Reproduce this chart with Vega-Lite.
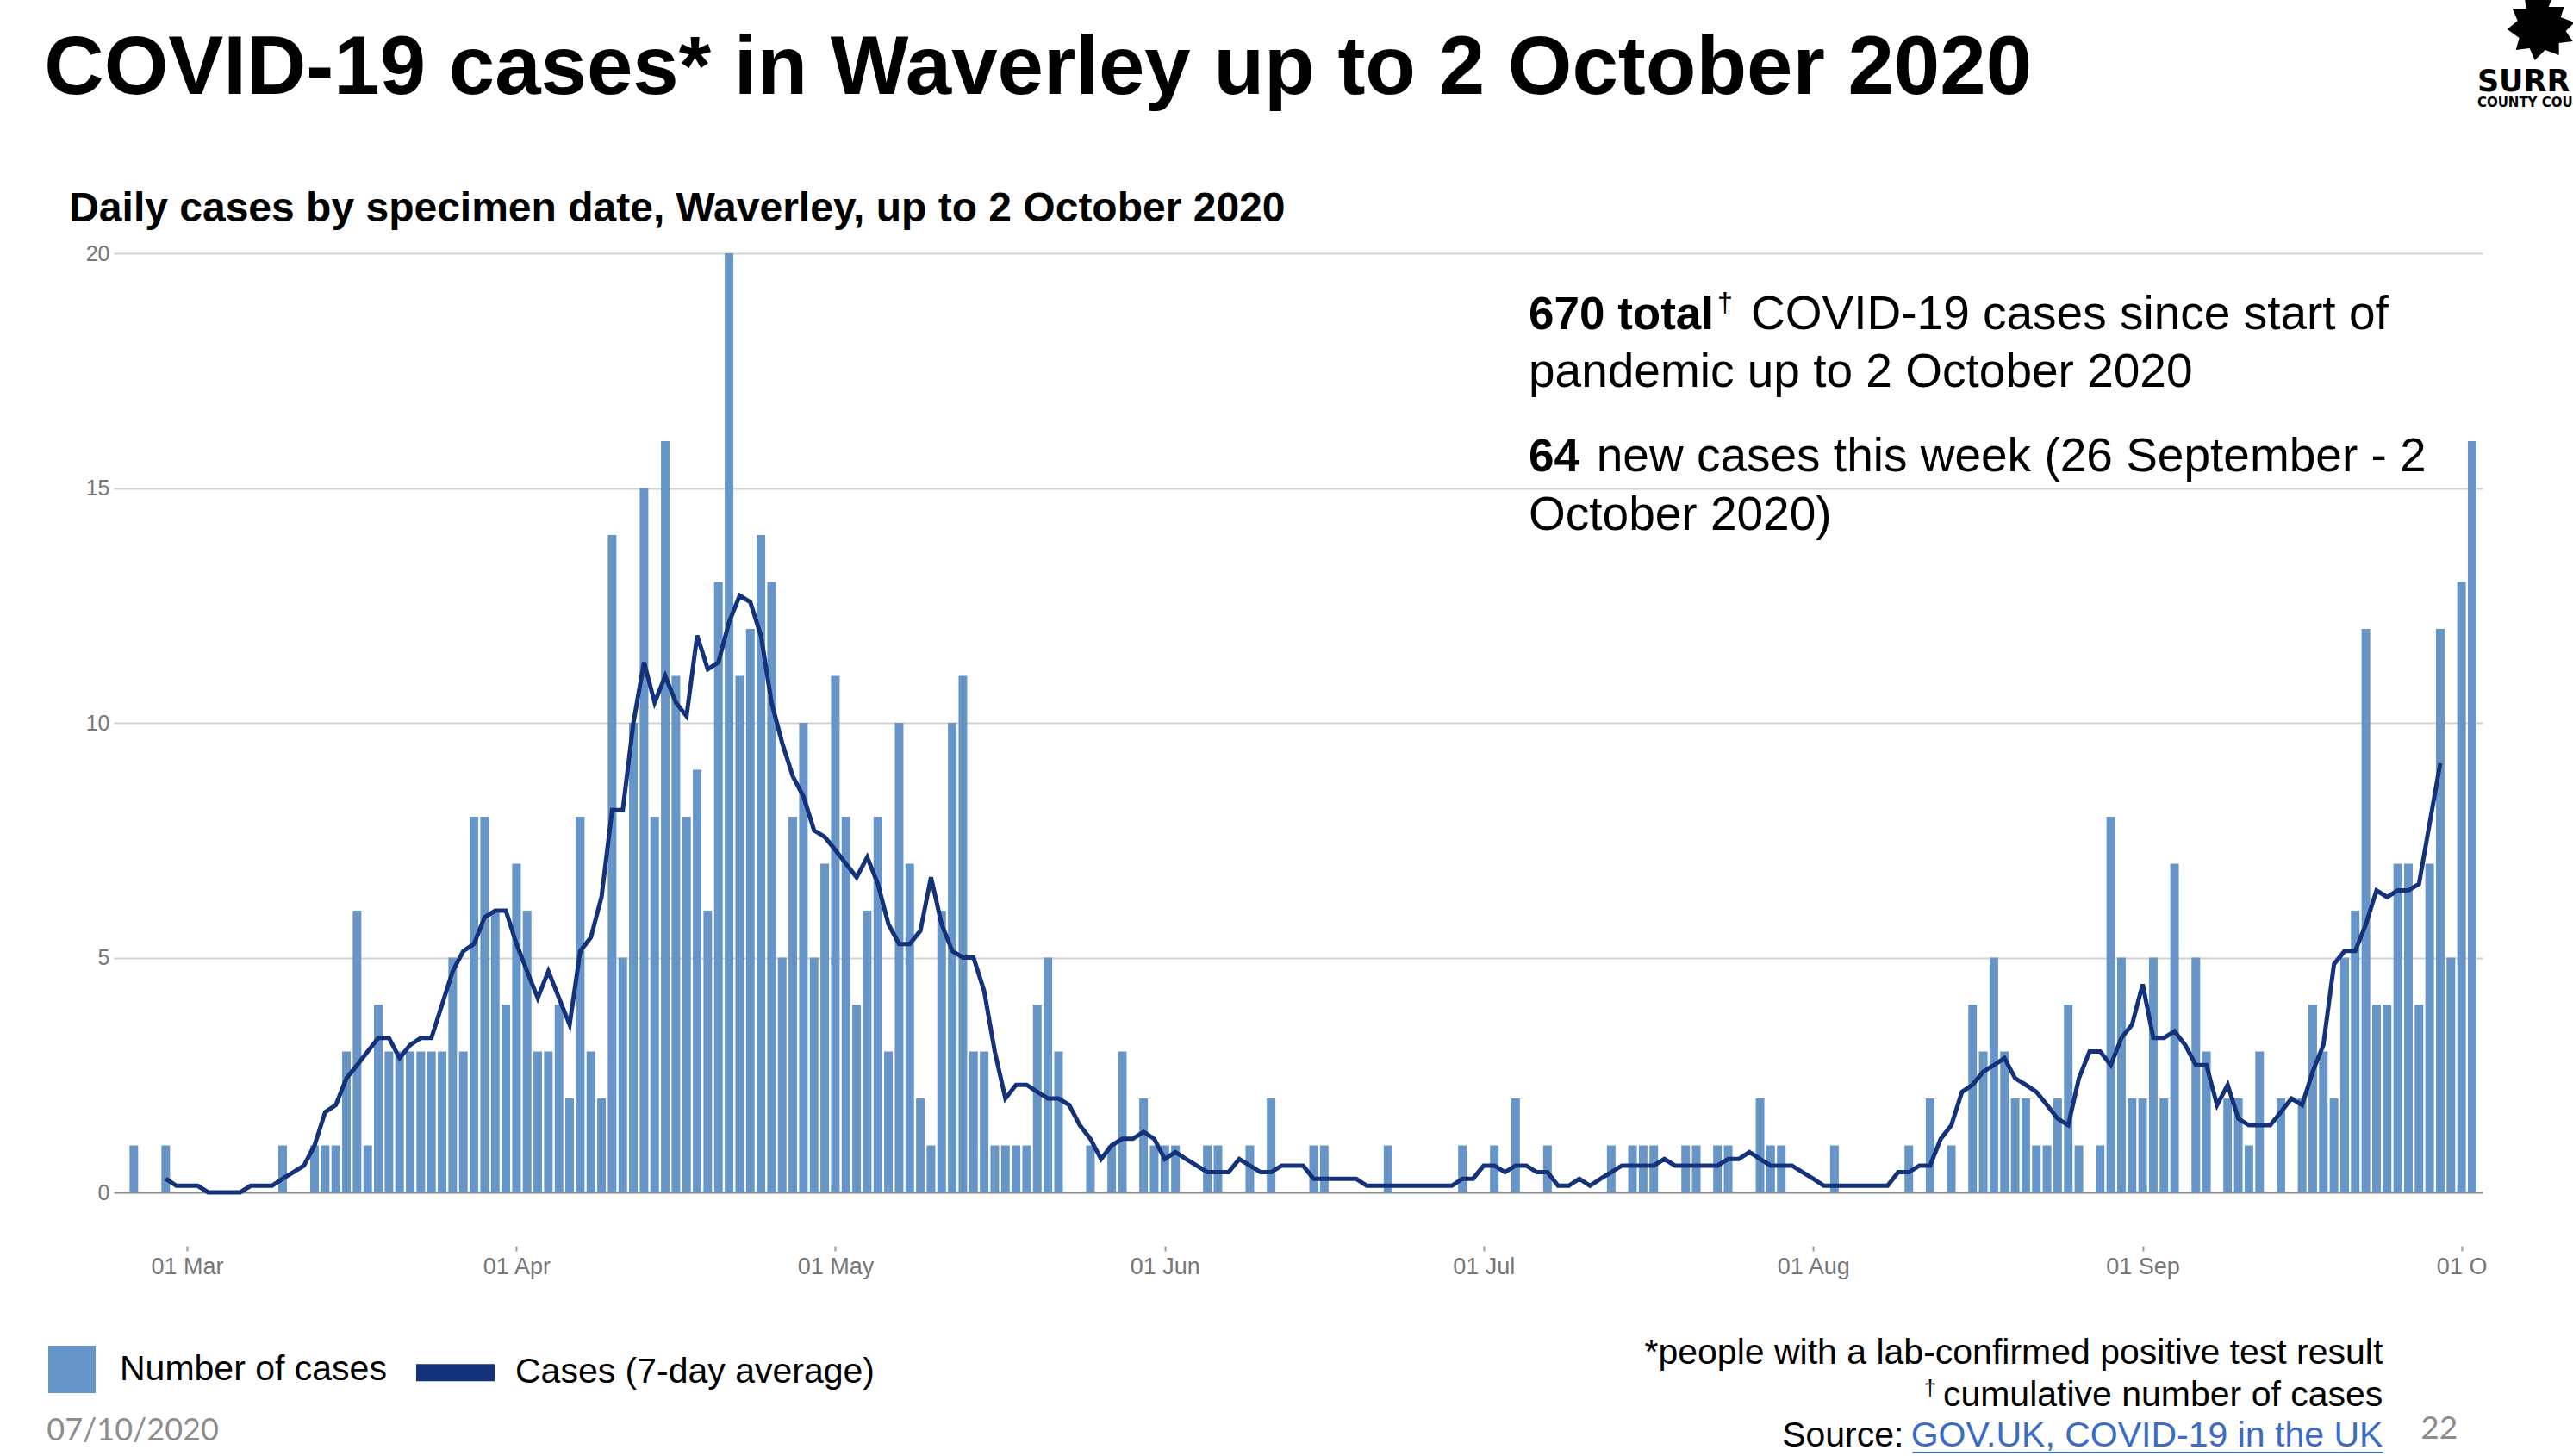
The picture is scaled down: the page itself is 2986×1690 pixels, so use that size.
{
  "$schema": "https://vega.github.io/schema/vega-lite/v6.json",
  "description": "Daily COVID-19 cases by specimen date in Waverley, with the 7-day average",
  "width": 2749,
  "height": 1090,
  "autosize": {"type": "none"},
  "padding": {"left": 132, "top": 294, "right": 105, "bottom": 306},
  "background": "white",
  "config": {"font": "Liberation Sans", "view": {"stroke": null}},
  "data": {
    "values": [
      {"date": "2020-02-25", "cases": 1},
      {"date": "2020-02-26", "cases": 0},
      {"date": "2020-02-27", "cases": 0},
      {"date": "2020-02-28", "cases": 1, "avg": 0.29},
      {"date": "2020-02-29", "cases": 0, "avg": 0.14},
      {"date": "2020-03-01", "cases": 0, "avg": 0.14},
      {"date": "2020-03-02", "cases": 0, "avg": 0.14},
      {"date": "2020-03-03", "cases": 0, "avg": 0},
      {"date": "2020-03-04", "cases": 0, "avg": 0},
      {"date": "2020-03-05", "cases": 0, "avg": 0},
      {"date": "2020-03-06", "cases": 0, "avg": 0},
      {"date": "2020-03-07", "cases": 0, "avg": 0.14},
      {"date": "2020-03-08", "cases": 0, "avg": 0.14},
      {"date": "2020-03-09", "cases": 0, "avg": 0.14},
      {"date": "2020-03-10", "cases": 1, "avg": 0.29},
      {"date": "2020-03-11", "cases": 0, "avg": 0.43},
      {"date": "2020-03-12", "cases": 0, "avg": 0.57},
      {"date": "2020-03-13", "cases": 1, "avg": 1.0},
      {"date": "2020-03-14", "cases": 1, "avg": 1.71},
      {"date": "2020-03-15", "cases": 1, "avg": 1.86},
      {"date": "2020-03-16", "cases": 3, "avg": 2.43},
      {"date": "2020-03-17", "cases": 6, "avg": 2.71},
      {"date": "2020-03-18", "cases": 1, "avg": 3.0},
      {"date": "2020-03-19", "cases": 4, "avg": 3.29},
      {"date": "2020-03-20", "cases": 3, "avg": 3.29},
      {"date": "2020-03-21", "cases": 3, "avg": 2.86},
      {"date": "2020-03-22", "cases": 3, "avg": 3.14},
      {"date": "2020-03-23", "cases": 3, "avg": 3.29},
      {"date": "2020-03-24", "cases": 3, "avg": 3.29},
      {"date": "2020-03-25", "cases": 3, "avg": 4.0},
      {"date": "2020-03-26", "cases": 5, "avg": 4.71},
      {"date": "2020-03-27", "cases": 3, "avg": 5.14},
      {"date": "2020-03-28", "cases": 8, "avg": 5.29},
      {"date": "2020-03-29", "cases": 8, "avg": 5.86},
      {"date": "2020-03-30", "cases": 6, "avg": 6.0},
      {"date": "2020-03-31", "cases": 4, "avg": 6.0},
      {"date": "2020-04-01", "cases": 7, "avg": 5.29},
      {"date": "2020-04-02", "cases": 6, "avg": 4.71},
      {"date": "2020-04-03", "cases": 3, "avg": 4.14},
      {"date": "2020-04-04", "cases": 3, "avg": 4.71},
      {"date": "2020-04-05", "cases": 4, "avg": 4.14},
      {"date": "2020-04-06", "cases": 2, "avg": 3.57},
      {"date": "2020-04-07", "cases": 8, "avg": 5.14},
      {"date": "2020-04-08", "cases": 3, "avg": 5.43},
      {"date": "2020-04-09", "cases": 2, "avg": 6.29},
      {"date": "2020-04-10", "cases": 14, "avg": 8.14},
      {"date": "2020-04-11", "cases": 5, "avg": 8.14},
      {"date": "2020-04-12", "cases": 10, "avg": 10.0},
      {"date": "2020-04-13", "cases": 15, "avg": 11.29},
      {"date": "2020-04-14", "cases": 8, "avg": 10.43},
      {"date": "2020-04-15", "cases": 16, "avg": 11.0},
      {"date": "2020-04-16", "cases": 11, "avg": 10.43},
      {"date": "2020-04-17", "cases": 8, "avg": 10.14},
      {"date": "2020-04-18", "cases": 9, "avg": 11.86},
      {"date": "2020-04-19", "cases": 6, "avg": 11.14},
      {"date": "2020-04-20", "cases": 13, "avg": 11.29},
      {"date": "2020-04-21", "cases": 20, "avg": 12.14},
      {"date": "2020-04-22", "cases": 11, "avg": 12.71},
      {"date": "2020-04-23", "cases": 12, "avg": 12.57},
      {"date": "2020-04-24", "cases": 14, "avg": 11.86},
      {"date": "2020-04-25", "cases": 13, "avg": 10.43},
      {"date": "2020-04-26", "cases": 5, "avg": 9.57},
      {"date": "2020-04-27", "cases": 8, "avg": 8.86},
      {"date": "2020-04-28", "cases": 10, "avg": 8.43},
      {"date": "2020-04-29", "cases": 5, "avg": 7.71},
      {"date": "2020-04-30", "cases": 7, "avg": 7.57},
      {"date": "2020-05-01", "cases": 11, "avg": 7.29},
      {"date": "2020-05-02", "cases": 8, "avg": 7.0},
      {"date": "2020-05-03", "cases": 4, "avg": 6.71},
      {"date": "2020-05-04", "cases": 6, "avg": 7.14},
      {"date": "2020-05-05", "cases": 8, "avg": 6.57},
      {"date": "2020-05-06", "cases": 3, "avg": 5.71},
      {"date": "2020-05-07", "cases": 10, "avg": 5.29},
      {"date": "2020-05-08", "cases": 7, "avg": 5.29},
      {"date": "2020-05-09", "cases": 2, "avg": 5.57},
      {"date": "2020-05-10", "cases": 1, "avg": 6.71},
      {"date": "2020-05-11", "cases": 6, "avg": 5.71},
      {"date": "2020-05-12", "cases": 10, "avg": 5.14},
      {"date": "2020-05-13", "cases": 11, "avg": 5.0},
      {"date": "2020-05-14", "cases": 3, "avg": 5.0},
      {"date": "2020-05-15", "cases": 3, "avg": 4.29},
      {"date": "2020-05-16", "cases": 1, "avg": 3.0},
      {"date": "2020-05-17", "cases": 1, "avg": 2.0},
      {"date": "2020-05-18", "cases": 1, "avg": 2.29},
      {"date": "2020-05-19", "cases": 1, "avg": 2.29},
      {"date": "2020-05-20", "cases": 4, "avg": 2.14},
      {"date": "2020-05-21", "cases": 5, "avg": 2.0},
      {"date": "2020-05-22", "cases": 3, "avg": 2.0},
      {"date": "2020-05-23", "cases": 0, "avg": 1.86},
      {"date": "2020-05-24", "cases": 0, "avg": 1.43},
      {"date": "2020-05-25", "cases": 1, "avg": 1.14},
      {"date": "2020-05-26", "cases": 0, "avg": 0.71},
      {"date": "2020-05-27", "cases": 1, "avg": 1.0},
      {"date": "2020-05-28", "cases": 3, "avg": 1.14},
      {"date": "2020-05-29", "cases": 0, "avg": 1.14},
      {"date": "2020-05-30", "cases": 2, "avg": 1.29},
      {"date": "2020-05-31", "cases": 1, "avg": 1.14},
      {"date": "2020-06-01", "cases": 1, "avg": 0.71},
      {"date": "2020-06-02", "cases": 1, "avg": 0.86},
      {"date": "2020-06-03", "cases": 0, "avg": 0.71},
      {"date": "2020-06-04", "cases": 0, "avg": 0.57},
      {"date": "2020-06-05", "cases": 1, "avg": 0.43},
      {"date": "2020-06-06", "cases": 1, "avg": 0.43},
      {"date": "2020-06-07", "cases": 0, "avg": 0.43},
      {"date": "2020-06-08", "cases": 0, "avg": 0.71},
      {"date": "2020-06-09", "cases": 1, "avg": 0.57},
      {"date": "2020-06-10", "cases": 0, "avg": 0.43},
      {"date": "2020-06-11", "cases": 2, "avg": 0.43},
      {"date": "2020-06-12", "cases": 0, "avg": 0.57},
      {"date": "2020-06-13", "cases": 0, "avg": 0.57},
      {"date": "2020-06-14", "cases": 0, "avg": 0.57},
      {"date": "2020-06-15", "cases": 1, "avg": 0.29},
      {"date": "2020-06-16", "cases": 1, "avg": 0.29},
      {"date": "2020-06-17", "cases": 0, "avg": 0.29},
      {"date": "2020-06-18", "cases": 0, "avg": 0.29},
      {"date": "2020-06-19", "cases": 0, "avg": 0.29},
      {"date": "2020-06-20", "cases": 0, "avg": 0.14},
      {"date": "2020-06-21", "cases": 0, "avg": 0.14},
      {"date": "2020-06-22", "cases": 1, "avg": 0.14},
      {"date": "2020-06-23", "cases": 0, "avg": 0.14},
      {"date": "2020-06-24", "cases": 0, "avg": 0.14},
      {"date": "2020-06-25", "cases": 0, "avg": 0.14},
      {"date": "2020-06-26", "cases": 0, "avg": 0.14},
      {"date": "2020-06-27", "cases": 0, "avg": 0.14},
      {"date": "2020-06-28", "cases": 0, "avg": 0.14},
      {"date": "2020-06-29", "cases": 1, "avg": 0.29},
      {"date": "2020-06-30", "cases": 0, "avg": 0.29},
      {"date": "2020-07-01", "cases": 0, "avg": 0.57},
      {"date": "2020-07-02", "cases": 1, "avg": 0.57},
      {"date": "2020-07-03", "cases": 0, "avg": 0.43},
      {"date": "2020-07-04", "cases": 2, "avg": 0.57},
      {"date": "2020-07-05", "cases": 0, "avg": 0.57},
      {"date": "2020-07-06", "cases": 0, "avg": 0.43},
      {"date": "2020-07-07", "cases": 1, "avg": 0.43},
      {"date": "2020-07-08", "cases": 0, "avg": 0.14},
      {"date": "2020-07-09", "cases": 0, "avg": 0.14},
      {"date": "2020-07-10", "cases": 0, "avg": 0.29},
      {"date": "2020-07-11", "cases": 0, "avg": 0.14},
      {"date": "2020-07-12", "cases": 0, "avg": 0.29},
      {"date": "2020-07-13", "cases": 1, "avg": 0.43},
      {"date": "2020-07-14", "cases": 0, "avg": 0.57},
      {"date": "2020-07-15", "cases": 1, "avg": 0.57},
      {"date": "2020-07-16", "cases": 1, "avg": 0.57},
      {"date": "2020-07-17", "cases": 1, "avg": 0.57},
      {"date": "2020-07-18", "cases": 0, "avg": 0.71},
      {"date": "2020-07-19", "cases": 0, "avg": 0.57},
      {"date": "2020-07-20", "cases": 1, "avg": 0.57},
      {"date": "2020-07-21", "cases": 1, "avg": 0.57},
      {"date": "2020-07-22", "cases": 0, "avg": 0.57},
      {"date": "2020-07-23", "cases": 1, "avg": 0.57},
      {"date": "2020-07-24", "cases": 1, "avg": 0.71},
      {"date": "2020-07-25", "cases": 0, "avg": 0.71},
      {"date": "2020-07-26", "cases": 0, "avg": 0.86},
      {"date": "2020-07-27", "cases": 2, "avg": 0.71},
      {"date": "2020-07-28", "cases": 1, "avg": 0.57},
      {"date": "2020-07-29", "cases": 1, "avg": 0.57},
      {"date": "2020-07-30", "cases": 0, "avg": 0.57},
      {"date": "2020-07-31", "cases": 0, "avg": 0.43},
      {"date": "2020-08-01", "cases": 0, "avg": 0.29},
      {"date": "2020-08-02", "cases": 0, "avg": 0.14},
      {"date": "2020-08-03", "cases": 1, "avg": 0.14},
      {"date": "2020-08-04", "cases": 0, "avg": 0.14},
      {"date": "2020-08-05", "cases": 0, "avg": 0.14},
      {"date": "2020-08-06", "cases": 0, "avg": 0.14},
      {"date": "2020-08-07", "cases": 0, "avg": 0.14},
      {"date": "2020-08-08", "cases": 0, "avg": 0.14},
      {"date": "2020-08-09", "cases": 0, "avg": 0.43},
      {"date": "2020-08-10", "cases": 1, "avg": 0.43},
      {"date": "2020-08-11", "cases": 0, "avg": 0.57},
      {"date": "2020-08-12", "cases": 2, "avg": 0.57},
      {"date": "2020-08-13", "cases": 0, "avg": 1.14},
      {"date": "2020-08-14", "cases": 1, "avg": 1.43},
      {"date": "2020-08-15", "cases": 0, "avg": 2.14},
      {"date": "2020-08-16", "cases": 4, "avg": 2.29},
      {"date": "2020-08-17", "cases": 3, "avg": 2.57},
      {"date": "2020-08-18", "cases": 5, "avg": 2.71},
      {"date": "2020-08-19", "cases": 3, "avg": 2.86},
      {"date": "2020-08-20", "cases": 2, "avg": 2.43},
      {"date": "2020-08-21", "cases": 2, "avg": 2.29},
      {"date": "2020-08-22", "cases": 1, "avg": 2.14},
      {"date": "2020-08-23", "cases": 1, "avg": 1.86},
      {"date": "2020-08-24", "cases": 2, "avg": 1.57},
      {"date": "2020-08-25", "cases": 4, "avg": 1.43},
      {"date": "2020-08-26", "cases": 1, "avg": 2.43},
      {"date": "2020-08-27", "cases": 0, "avg": 3.0},
      {"date": "2020-08-28", "cases": 1, "avg": 3.0},
      {"date": "2020-08-29", "cases": 8, "avg": 2.71},
      {"date": "2020-08-30", "cases": 5, "avg": 3.29},
      {"date": "2020-08-31", "cases": 2, "avg": 3.57},
      {"date": "2020-09-01", "cases": 2, "avg": 4.43},
      {"date": "2020-09-02", "cases": 5, "avg": 3.29},
      {"date": "2020-09-03", "cases": 2, "avg": 3.29},
      {"date": "2020-09-04", "cases": 7, "avg": 3.43},
      {"date": "2020-09-05", "cases": 0, "avg": 3.14},
      {"date": "2020-09-06", "cases": 5, "avg": 2.71},
      {"date": "2020-09-07", "cases": 3, "avg": 2.71},
      {"date": "2020-09-08", "cases": 0, "avg": 1.86},
      {"date": "2020-09-09", "cases": 2, "avg": 2.29},
      {"date": "2020-09-10", "cases": 2, "avg": 1.57},
      {"date": "2020-09-11", "cases": 1, "avg": 1.43},
      {"date": "2020-09-12", "cases": 3, "avg": 1.43},
      {"date": "2020-09-13", "cases": 0, "avg": 1.43},
      {"date": "2020-09-14", "cases": 2, "avg": 1.71},
      {"date": "2020-09-15", "cases": 0, "avg": 2.0},
      {"date": "2020-09-16", "cases": 2, "avg": 1.86},
      {"date": "2020-09-17", "cases": 4, "avg": 2.57},
      {"date": "2020-09-18", "cases": 3, "avg": 3.14},
      {"date": "2020-09-19", "cases": 2, "avg": 4.86},
      {"date": "2020-09-20", "cases": 5, "avg": 5.14},
      {"date": "2020-09-21", "cases": 6, "avg": 5.14},
      {"date": "2020-09-22", "cases": 12, "avg": 5.71},
      {"date": "2020-09-23", "cases": 4, "avg": 6.43},
      {"date": "2020-09-24", "cases": 4, "avg": 6.29},
      {"date": "2020-09-25", "cases": 7, "avg": 6.43},
      {"date": "2020-09-26", "cases": 7, "avg": 6.43},
      {"date": "2020-09-27", "cases": 4, "avg": 6.57},
      {"date": "2020-09-28", "cases": 7, "avg": 7.86},
      {"date": "2020-09-29", "cases": 12, "avg": 9.14},
      {"date": "2020-09-30", "cases": 5},
      {"date": "2020-10-01", "cases": 13},
      {"date": "2020-10-02", "cases": 16}
    ]
  },
  "layer": [
    {
      "mark": {"type": "bar", "size": 10},
      "encoding": {
        "x": {
          "field": "date",
          "type": "temporal",
          "scale": {
            "type": "utc",
            "domain": [
              {"year": 2020, "month": 2, "date": 23, "hours": 12, "minutes": 20, "utc": true},
              {"year": 2020, "month": 10, "date": 2, "hours": 13, "minutes": 41, "utc": true}
            ]
          },
          "axis": {
            "title": null,
            "values": [
              {"year": 2020, "month": 3, "date": 1, "utc": true},
              {"year": 2020, "month": 4, "date": 1, "utc": true},
              {"year": 2020, "month": 5, "date": 1, "utc": true},
              {"year": 2020, "month": 6, "date": 1, "utc": true},
              {"year": 2020, "month": 7, "date": 1, "utc": true},
              {"year": 2020, "month": 8, "date": 1, "utc": true},
              {"year": 2020, "month": 9, "date": 1, "utc": true},
              {"year": 2020, "month": 10, "date": 1, "utc": true}
            ],
            "labelExpr": "utcmonth(datum.value) === 9 ? '01 O' : utcFormat(datum.value, '%d %b')",
            "domain": false,
            "grid": false,
            "offset": 62,
            "tickSize": 6,
            "tickColor": "#999999",
            "tickWidth": 2,
            "labelFontSize": 27,
            "labelColor": "#777777",
            "labelPadding": 5,
            "labelFlush": false,
            "labelOverlap": false
          }
        },
        "y": {
          "field": "cases",
          "type": "quantitative",
          "scale": {"domain": [0, 20], "nice": false},
          "axis": {
            "title": null,
            "values": [0, 5, 10, 15, 20],
            "grid": true,
            "gridColor": {"condition": {"test": "datum.value === 0", "value": "#8c8c8c"}, "value": "#d2d2d2"},
            "gridWidth": 2,
            "domain": false,
            "ticks": false,
            "labelFontSize": 25,
            "labelColor": "#777777",
            "labelPadding": 5
          }
        },
        "color": {
          "datum": "Number of cases",
          "type": "nominal",
          "scale": {
            "domain": ["Number of cases", "Cases (7-day average)"],
            "range": ["#6795c8", "#14327a"]
          },
          "legend": {
            "title": null,
            "orient": "none",
            "direction": "horizontal",
            "legendX": -76,
            "legendY": 1268,
            "padding": 0,
            "symbolSize": 3025,
            "symbolType": "square",
            "symbolStrokeWidth": 0,
            "labelFontSize": 41,
            "labelColor": "#000000",
            "labelFont": "Liberation Sans",
            "labelOffset": 28,
            "labelLimit": 1000,
            "columnPadding": 34,
            "encode": {
              "symbols": {
                "update": {
                  "shape": {"signal": "datum.value === 'Number of cases' ? 'square' : 'M-1,-0.364H2.31V0.364H-1Z'"},
                  "fill": {"signal": "datum.value === 'Number of cases' ? '#6795c8' : '#14327a'"},
                  "stroke": {"value": "transparent"},
                  "opacity": {"value": 1}
                }
              },
              "labels": {
                "update": {
                  "dx": {"signal": "datum.value === 'Number of cases' ? 0 : 32"}
                }
              }
            }
          }
        }
      }
    },
    {
      "mark": {"type": "line", "strokeWidth": 5},
      "encoding": {
        "x": {"field": "date", "type": "temporal"},
        "y": {"field": "avg", "type": "quantitative"},
        "color": {"datum": "Cases (7-day average)", "type": "nominal"}
      }
    },
    {
      "data": {"values": [{}]},
      "mark": {"type": "text", "text": "COVID-19 cases* in Waverley up to 2 October 2020", "font": "Liberation Sans", "fontWeight": "bold", "fontSize": 96, "align": "left", "baseline": "alphabetic", "color": "#000000"},
      "encoding": {
        "x": {"datum": {"year": 2020, "month": 2, "date": 16, "hours": 13, "minutes": 36, "utc": true}, "type": "temporal"},
        "y": {"datum": 23.394, "type": "quantitative"}
      }
    },
    {
      "data": {"values": [{}]},
      "mark": {"type": "text", "text": "Daily cases by specimen date, Waverley, up to 2 October 2020", "font": "Liberation Sans", "fontWeight": "bold", "fontSize": 48, "align": "left", "baseline": "alphabetic", "color": "#000000"},
      "encoding": {
        "x": {"datum": {"year": 2020, "month": 2, "date": 18, "hours": 21, "minutes": 50, "utc": true}, "type": "temporal"},
        "y": {"datum": 20.679, "type": "quantitative"}
      }
    },
    {
      "data": {"values": [{}]},
      "mark": {"type": "point", "filled": true, "size": 6400, "color": "#000000", "opacity": 1, "shape": "M-0.2,-1L0.3,-0.8L0.2,-0.55L0.65,-0.55L0.55,-0.25L0.95,-0.1L0.7,0.15L0.9,0.45L0.5,0.5L0.5,0.85L0.1,0.7L-0.2,1L-0.35,0.65L-0.75,0.7L-0.65,0.35L-1,0.1L-0.7,-0.15L-0.85,-0.5L-0.45,-0.5L-0.5,-0.85Z"},
      "encoding": {
        "x": {"datum": {"year": 2020, "month": 10, "date": 8, "hours": 13, "minutes": 0, "utc": true}, "type": "temporal"},
        "y": {"datum": 24.844, "type": "quantitative"}
      }
    },
    {
      "data": {"values": [{}]},
      "mark": {"type": "text", "text": "SURR", "font": "DejaVu Sans", "fontWeight": "bold", "fontSize": 35, "align": "left", "baseline": "alphabetic", "color": "#000000"},
      "encoding": {
        "x": {"datum": {"year": 2020, "month": 10, "date": 2, "hours": 11, "minutes": 31, "utc": true}, "type": "temporal"},
        "y": {"datum": 23.45, "type": "quantitative"}
      }
    },
    {
      "data": {"values": [{}]},
      "mark": {"type": "text", "text": "COUNTY COU", "font": "DejaVu Sans", "fontWeight": "bold", "fontSize": 15, "align": "left", "baseline": "alphabetic", "color": "#000000"},
      "encoding": {
        "x": {"datum": {"year": 2020, "month": 10, "date": 2, "hours": 11, "minutes": 31, "utc": true}, "type": "temporal"},
        "y": {"datum": 23.119, "type": "quantitative"}
      }
    },
    {
      "data": {"values": [{}]},
      "mark": {"type": "text", "text": "670 total", "font": "Liberation Sans", "fontWeight": "bold", "fontSize": 53, "align": "left", "baseline": "alphabetic", "color": "#000000"},
      "encoding": {
        "x": {"datum": {"year": 2020, "month": 7, "date": 5, "hours": 5, "minutes": 30, "utc": true}, "type": "temporal"},
        "y": {"datum": 18.385, "type": "quantitative"}
      }
    },
    {
      "data": {"values": [{}]},
      "mark": {"type": "text", "text": "†", "font": "Liberation Sans", "fontSize": 32, "align": "left", "baseline": "alphabetic", "color": "#000000"},
      "encoding": {
        "x": {"datum": {"year": 2020, "month": 7, "date": 22, "hours": 23, "minutes": 45, "utc": true}, "type": "temporal"},
        "y": {"datum": 18.752, "type": "quantitative"}
      }
    },
    {
      "data": {"values": [{}]},
      "mark": {"type": "text", "text": "COVID-19 cases since start of", "font": "Liberation Sans", "fontSize": 55, "align": "left", "baseline": "alphabetic", "color": "#000000"},
      "encoding": {
        "x": {"datum": {"year": 2020, "month": 7, "date": 26, "hours": 3, "minutes": 35, "utc": true}, "type": "temporal"},
        "y": {"datum": 18.385, "type": "quantitative"}
      }
    },
    {
      "data": {"values": [{}]},
      "mark": {"type": "text", "text": "pandemic up to 2 October 2020", "font": "Liberation Sans", "fontSize": 55, "align": "left", "baseline": "alphabetic", "color": "#000000"},
      "encoding": {
        "x": {"datum": {"year": 2020, "month": 7, "date": 5, "hours": 5, "minutes": 30, "utc": true}, "type": "temporal"},
        "y": {"datum": 17.156, "type": "quantitative"}
      }
    },
    {
      "data": {"values": [{}]},
      "mark": {"type": "text", "text": "64", "font": "Liberation Sans", "fontWeight": "bold", "fontSize": 53, "align": "left", "baseline": "alphabetic", "color": "#000000"},
      "encoding": {
        "x": {"datum": {"year": 2020, "month": 7, "date": 5, "hours": 5, "minutes": 30, "utc": true}, "type": "temporal"},
        "y": {"datum": 15.358, "type": "quantitative"}
      }
    },
    {
      "data": {"values": [{}]},
      "mark": {"type": "text", "text": "new cases this week (26 September - 2", "font": "Liberation Sans", "fontSize": 55, "align": "left", "baseline": "alphabetic", "color": "#000000"},
      "encoding": {
        "x": {"datum": {"year": 2020, "month": 7, "date": 11, "hours": 14, "minutes": 40, "utc": true}, "type": "temporal"},
        "y": {"datum": 15.358, "type": "quantitative"}
      }
    },
    {
      "data": {"values": [{}]},
      "mark": {"type": "text", "text": "October 2020)", "font": "Liberation Sans", "fontSize": 55, "align": "left", "baseline": "alphabetic", "color": "#000000"},
      "encoding": {
        "x": {"datum": {"year": 2020, "month": 7, "date": 5, "hours": 5, "minutes": 30, "utc": true}, "type": "temporal"},
        "y": {"datum": 14.11, "type": "quantitative"}
      }
    },
    {
      "data": {"values": [{}]},
      "mark": {"type": "text", "text": "*people with a lab-confirmed positive test result", "font": "Liberation Sans", "fontSize": 41, "align": "right", "baseline": "alphabetic", "color": "#000000"},
      "encoding": {
        "x": {"datum": {"year": 2020, "month": 9, "date": 23, "hours": 14, "minutes": 25, "utc": true}, "type": "temporal"},
        "y": {"datum": -3.651, "type": "quantitative"}
      }
    },
    {
      "data": {"values": [{}]},
      "mark": {"type": "text", "text": "†", "font": "Liberation Sans", "fontSize": 26, "align": "right", "baseline": "alphabetic", "color": "#000000"},
      "encoding": {
        "x": {"datum": {"year": 2020, "month": 8, "date": 12, "hours": 14, "minutes": 10, "utc": true}, "type": "temporal"},
        "y": {"datum": -4.33, "type": "quantitative"}
      }
    },
    {
      "data": {"values": [{}]},
      "mark": {"type": "text", "text": "cumulative number of cases", "font": "Liberation Sans", "fontSize": 41, "align": "right", "baseline": "alphabetic", "color": "#000000"},
      "encoding": {
        "x": {"datum": {"year": 2020, "month": 9, "date": 23, "hours": 14, "minutes": 25, "utc": true}, "type": "temporal"},
        "y": {"datum": -4.55, "type": "quantitative"}
      }
    },
    {
      "data": {"values": [{}]},
      "mark": {"type": "text", "text": "Source:", "font": "Liberation Sans", "fontSize": 41, "align": "right", "baseline": "alphabetic", "color": "#000000"},
      "encoding": {
        "x": {"datum": {"year": 2020, "month": 8, "date": 9, "hours": 12, "minutes": 45, "utc": true}, "type": "temporal"},
        "y": {"datum": -5.413, "type": "quantitative"}
      }
    },
    {
      "data": {"values": [{}]},
      "mark": {"type": "text", "text": "GOV.UK, COVID-19 in the UK", "font": "Liberation Sans", "fontSize": 41, "align": "right", "baseline": "alphabetic", "color": "#3a6cc6"},
      "encoding": {
        "x": {"datum": {"year": 2020, "month": 9, "date": 23, "hours": 14, "minutes": 25, "utc": true}, "type": "temporal"},
        "y": {"datum": -5.413, "type": "quantitative"}
      }
    },
    {
      "data": {"values": [{}]},
      "mark": {"type": "rule", "color": "#3a6cc6", "strokeWidth": 2},
      "encoding": {
        "x": {"datum": {"year": 2020, "month": 8, "date": 10, "hours": 8, "minutes": 10, "utc": true}, "type": "temporal"},
        "x2": {"datum": {"year": 2020, "month": 9, "date": 23, "hours": 14, "minutes": 25, "utc": true}},
        "y": {"datum": -5.541, "type": "quantitative"}
      }
    },
    {
      "data": {"values": [{}]},
      "mark": {"type": "text", "text": "07/10/2020", "font": "Lato", "fontSize": 36, "align": "left", "baseline": "alphabetic", "color": "#8c8c8c"},
      "encoding": {
        "x": {"datum": {"year": 2020, "month": 2, "date": 16, "hours": 19, "minutes": 25, "utc": true}, "type": "temporal"},
        "y": {"datum": -5.284, "type": "quantitative"}
      }
    },
    {
      "data": {"values": [{}]},
      "mark": {"type": "text", "text": "22", "font": "Lato", "fontSize": 37, "align": "left", "baseline": "alphabetic", "color": "#8c8c8c"},
      "encoding": {
        "x": {"datum": {"year": 2020, "month": 9, "date": 27, "hours": 3, "minutes": 40, "utc": true}, "type": "temporal"},
        "y": {"datum": -5.248, "type": "quantitative"}
      }
    }
  ]
}
